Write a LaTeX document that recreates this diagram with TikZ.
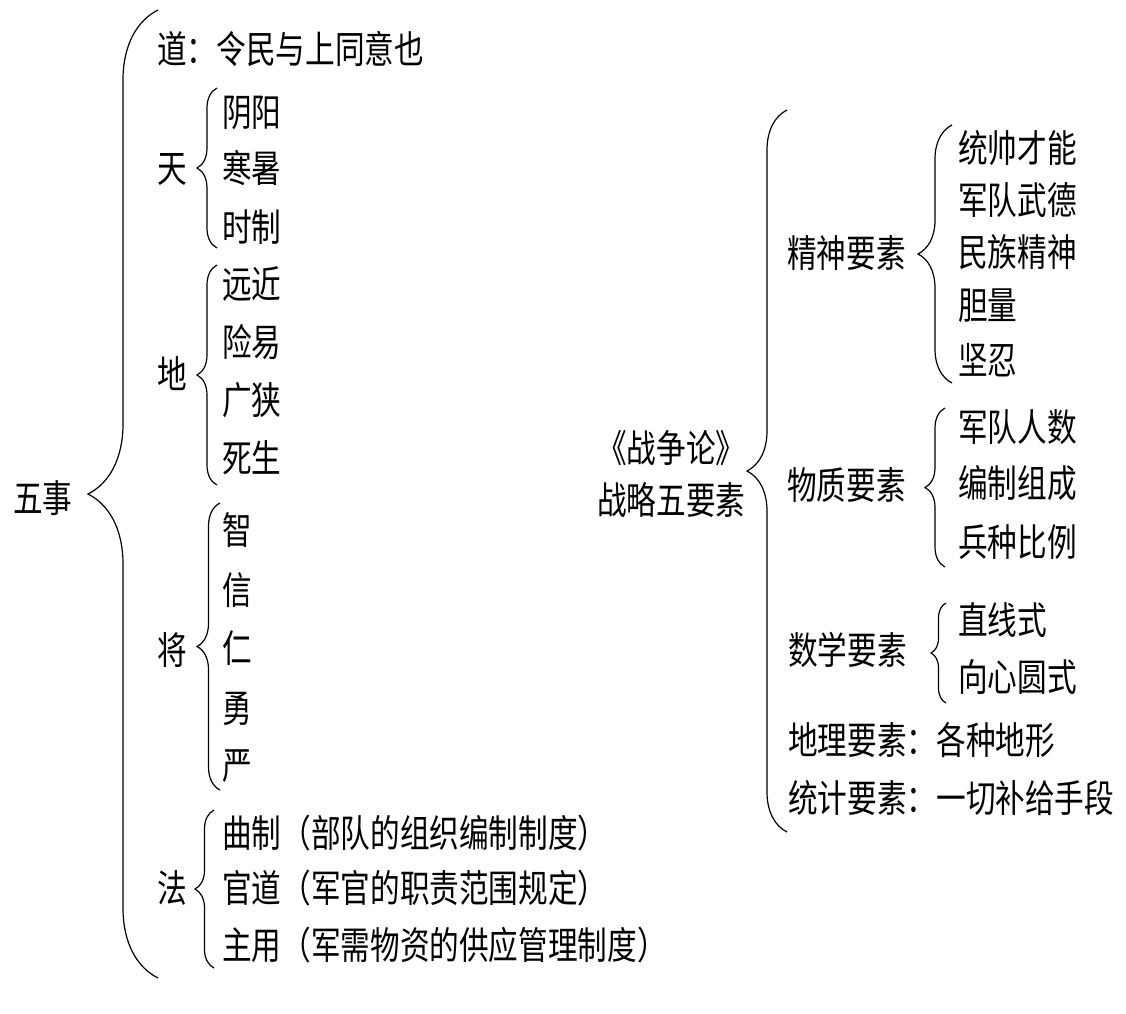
\documentclass[tikz,border=0pt]{standalone}
\usepackage{fontspec}
\setmainfont{Noto Sans CJK SC}[FakeStretch=0.78]
\usetikzlibrary{decorations.pathreplacing}
\begin{document}
\begin{tikzpicture}[x=1pt,y=-1pt,
  lbl/.style={anchor=west,inner sep=0pt,text height=33.4pt,text depth=4.6pt,font=\fontsize{38}{52}\selectfont},
  brc/.style={decorate,decoration={brace,amplitude=#1},line width=1.2pt}]
  \useasboundingbox (0,0) rectangle (1126,1013);
  % left : wushi
  \node[lbl] (ws) at (13,498) {五事};
  \coordinate (wsT) at (158,10);
  \coordinate (wsB) at (158,978);
  \draw[brc=70] (wsB) -- (wsT);
  \node[lbl] (dao) at (157,49) {道：令民与上同意也};
  \node[lbl] (tian) at (157,168) {天};
  \coordinate (tianT) at (217,88);
  \coordinate (tianB) at (217,248);
  \draw[brc=20] (tianB) -- (tianT);
  \node[lbl] (tian1) at (222,112) {阴阳};
  \node[lbl] (tian2) at (222,168) {寒暑};
  \node[lbl] (tian3) at (222,227) {时制};
  \node[lbl] (di) at (157,374) {地};
  \coordinate (diT) at (217,265);
  \coordinate (diB) at (217,485);
  \draw[brc=20] (diB) -- (diT);
  \node[lbl] (di1) at (222,284) {远近};
  \node[lbl] (di2) at (222,342) {险易};
  \node[lbl] (di3) at (222,400) {广狭};
  \node[lbl] (di4) at (222,458) {死生};
  \node[lbl] (jiang) at (157,650) {将};
  \coordinate (jiangT) at (220,503);
  \coordinate (jiangB) at (220,790);
  \draw[brc=23] (jiangB) -- (jiangT);
  \node[lbl] (jiang1) at (222,530) {智};
  \node[lbl] (jiang2) at (222,590) {信};
  \node[lbl] (jiang3) at (222,648) {仁};
  \node[lbl] (jiang4) at (222,708) {勇};
  \node[lbl] (jiang5) at (222,765) {严};
  \node[lbl] (fa) at (157,888) {法};
  \coordinate (faT) at (214,810);
  \coordinate (faB) at (214,968);
  \draw[brc=19] (faB) -- (faT);
  \node[lbl] (fa1) at (222,833) {曲制（部队的组织编制制度）};
  \node[lbl] (fa2) at (222,888) {官道（军官的职责范围规定）};
  \node[lbl] (fa3) at (222,945) {主用（军需物资的供应管理制度）};
  % right : zhanzhenglun
  \node[lbl] (zz1) at (597,448) {《战争论》};
  \node[lbl] (zz2) at (597,500) {战略五要素};
  \coordinate (zzT) at (787,110);
  \coordinate (zzB) at (787,832);
  \draw[brc=40] (zzB) -- (zzT);
  \node[lbl] (jsh) at (787,253) {精神要素};
  \coordinate (jshT) at (952,125);
  \coordinate (jshB) at (952,383);
  \draw[brc=34] (jshB) -- (jshT);
  \node[lbl] (jsh1) at (958,148) {统帅才能};
  \node[lbl] (jsh2) at (958,200) {军队武德};
  \node[lbl] (jsh3) at (958,252) {民族精神};
  \node[lbl] (jsh4) at (958,305) {胆量};
  \node[lbl] (jsh5) at (958,360) {坚忍};
  \node[lbl] (wzh) at (787,485) {物质要素};
  \coordinate (wzhT) at (945,408);
  \coordinate (wzhB) at (945,567);
  \draw[brc=20] (wzhB) -- (wzhT);
  \node[lbl] (wzh1) at (958,427) {军队人数};
  \node[lbl] (wzh2) at (958,483) {编制组成};
  \node[lbl] (wzh3) at (958,542) {兵种比例};
  \node[lbl] (sxue) at (788,650) {数学要素};
  \coordinate (sxueT) at (946,603);
  \coordinate (sxueB) at (946,703);
  \draw[brc=15] (sxueB) -- (sxueT);
  \node[lbl] (sxue1) at (958,620) {直线式};
  \node[lbl] (sxue2) at (958,677) {向心圆式};
  \node[lbl] (dli) at (788,740) {地理要素：各种地形};
  \node[lbl] (tji) at (788,798) {统计要素：一切补给手段};
\end{tikzpicture}
\end{document}
